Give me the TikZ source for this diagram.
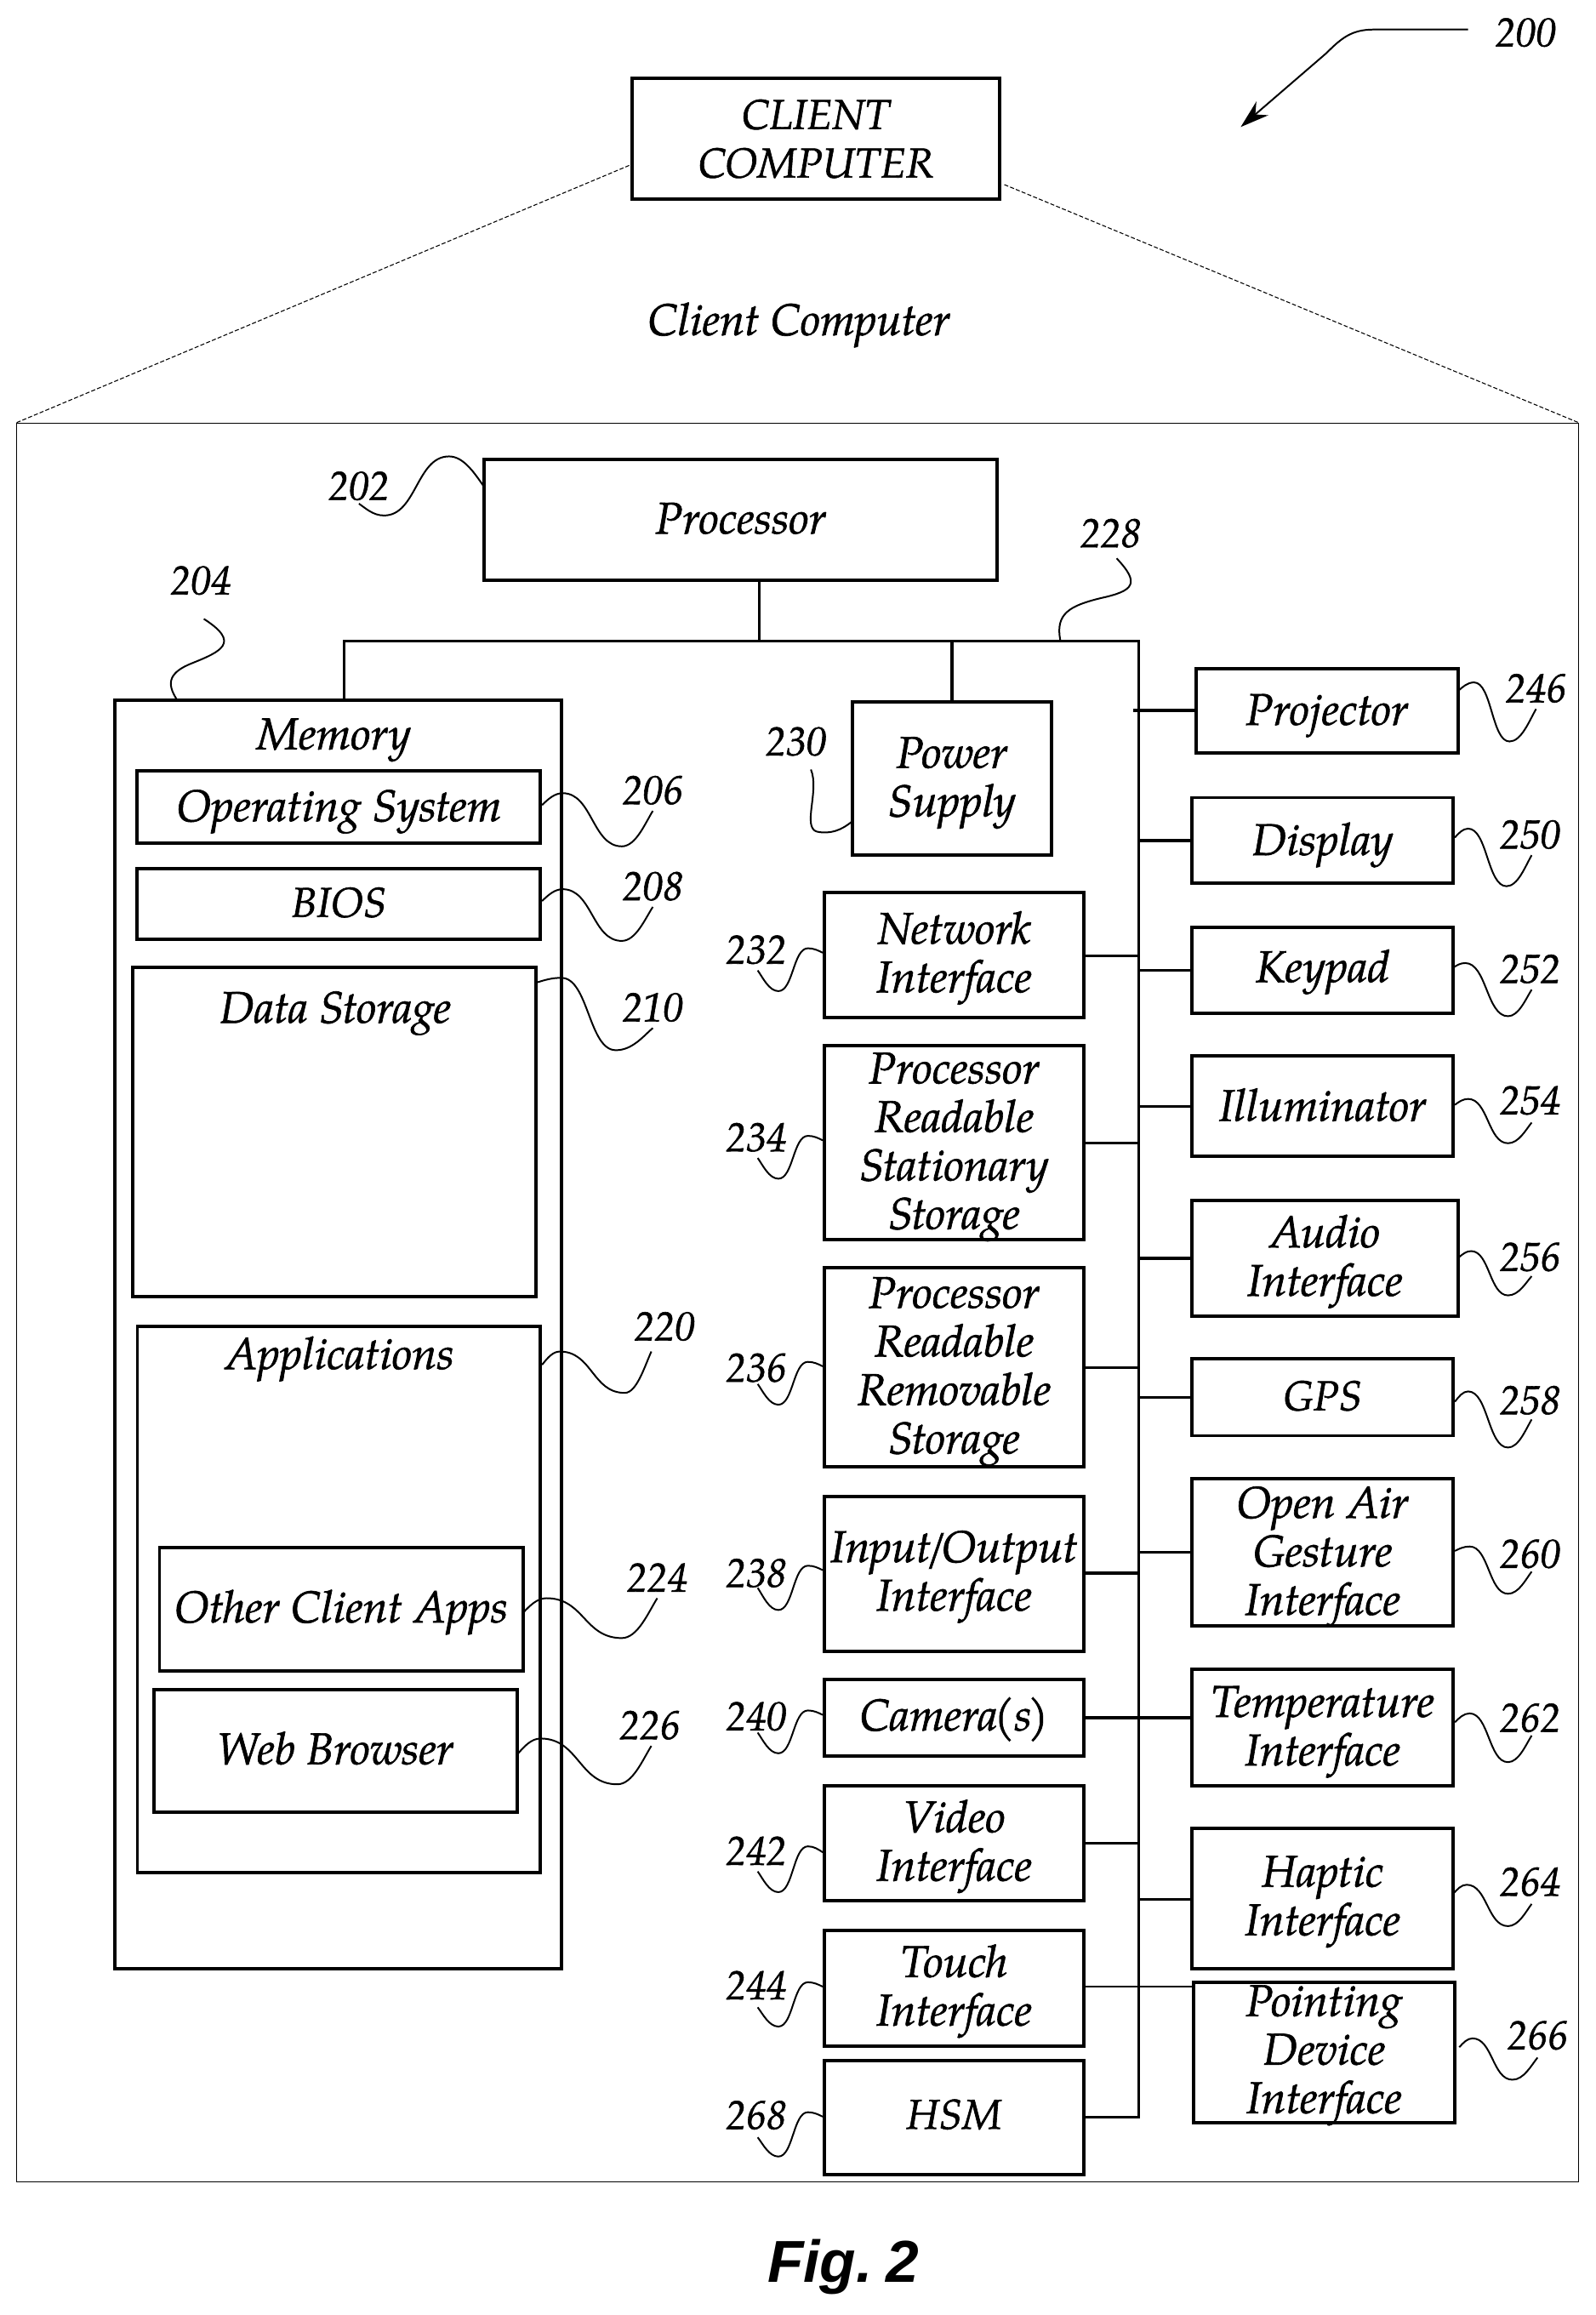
\documentclass[tikz,border=0pt]{standalone}
\usepackage{fontspec}
\setmainfont[ItalicFeatures={FakeBold=1.2}]{TeX Gyre Pagella}
\newfontfamily\figfont{Liberation Sans}
\usetikzlibrary{arrows.meta,calc}
\newcommand\lab{\fontsize{17.2}{18.7}\selectfont\itshape}
\newcommand\capslab{\fontsize{16.1}{18.7}\selectfont\itshape}
\newcommand\numlab{\fontsize{15.6}{18.7}\selectfont\itshape}
\tikzset{
  x=0.02cm,y=-0.02cm,
  bx/.style={draw,line width=1.3pt,inner sep=0pt},
  txt/.style={inner sep=0pt,align=center,font=\lab},
  captxt/.style={inner sep=0pt,align=center,font=\capslab},
  num/.style={inner sep=0pt,font=\numlab},
  wire/.style={line width=1.1pt},
  twire/.style={line width=.8pt},
  sq/.style={line width=.65pt},
  ghost/.style={line width=.35pt,dash pattern=on 1.6pt off .8pt},
}
% box: [text offset] name x1 y1 x2 y2 text
\newcommand\bx[7][2]{\node[bx,minimum width={(#5-#3)*0.02cm},minimum height={(#6-#4)*0.02cm}] (#2) at ({(#3+#5)/2},{(#4+#6)/2}) {};
  \node[txt] (#2t) at ({(#3+#5)/2},{(#4+#6)/2+#1}) {#7};}
\newcommand\capbx[7][0]{\node[bx,minimum width={(#5-#3)*0.02cm},minimum height={(#6-#4)*0.02cm}] (#2) at ({(#3+#5)/2},{(#4+#6)/2}) {};
  \node[captxt] (#2t) at ({(#3+#5)/2},{(#4+#6)/2+#1}) {#7};}
% squiggle through start, crest, trough, end
\newcommand\squig[8]{\draw[sq] (#1,#2) .. controls ({#1+0.3*(#3-#1)},{#4+0.5*(#2-#4)}) and ({#3-0.4*(#3-#1)},#4) .. (#3,#4) .. controls ({#3+0.5*(#5-#3)},#4) and ({#5-0.5*(#5-#3)},#6) .. (#5,#6) .. controls ({#5+0.45*(#7-#5)},#6) and ({#7-0.25*(#7-#5)},{#8+0.35*(#6-#8)}) .. (#7,#8);}
\begin{document}
\begin{tikzpicture}
\useasboundingbox (0,0) rectangle (1080,1567.3);
% frame
\node[draw,line width=.35pt,minimum width=21.16cm,minimum height=23.82cm,inner sep=0pt] (frame) at (540,882) {};
\capbx{client}{428}{53}{677}{135}{CLIENT\\COMPUTER}
\coordinate (cl) at (426,112);
\coordinate (cr) at (680,125);
\draw[ghost] (cl) -- (frame.north west);
\draw[ghost] (cr) -- (frame.north east);
\node[txt] (cctext) at (541,220) {Client Computer};
% processor and memory
\bx[-1]{proc}{328}{311}{675}{393}{Processor}
\node[bx,minimum width=6.04cm,minimum height=17.18cm] (mem) at (229,903.5) {};
\node[txt] (memt) at (226,501) {Memory};
\bx[3]{os}{93}{522}{366}{571}{Operating System}
\capbx[-1]{bios}{93}{588}{366}{636}{BIOS}
\node[bx,minimum width=5.46cm,minimum height=4.46cm] (data) at (226.5,766.5) {};
\node[txt] (datat) at (227,686) {Data Storage};
\node[bx,minimum width=5.46cm,minimum height=7.4cm] (apps) at (229.5,1083) {};
\node[txt] (appst) at (230,920) {Applications};
\bx[2]{other}{108}{1048}{354}{1131}{Other Client Apps}
\bx[-2]{web}{104}{1144}{350}{1227}{Web Browser}
% middle column
\bx[3]{power}{577}{475}{712}{579}{Power\\Supply}
\bx{net}{558}{604}{734}{689}{Network\\Interface}
\bx[3]{prss}{558}{708}{734}{839}{Processor\\Readable\\Stationary\\Storage}
\bx[3]{prrs}{558}{858}{734}{993}{Processor\\Readable\\Removable\\Storage}
\bx{io}{558}{1013}{734}{1118}{Input\kern-2.2pt/\kern-2.2pt Output\\Interface}
\bx[1]{cam}{558}{1137}{734}{1189}{Camera\kern-1.4pt(s\kern-1.4pt)}
\bx[2]{video}{558}{1209}{734}{1287}{Video\\Interface}
\bx{touch}{558}{1307}{734}{1385}{Touch\\Interface}
\capbx[-2]{hsm}{558}{1395}{734}{1472}{HSM}
% right column
\bx[3]{proj}{810}{453}{987}{510}{Projector}
\bx[3]{disp}{807}{540}{984}{598}{Display}
\bx[1]{key}{807}{628}{984}{686}{Keypad}
\bx[-1]{illum}{807}{715}{984}{783}{Illuminator}
\bx{audio}{807}{813}{987}{891}{Audio\\Interface}
\capbx[-1]{gps}{807}{920}{984}{972}{GPS}
\bx[3]{air}{807}{1001}{984}{1101}{Open Air\\Gesture\\Interface}
\bx[3]{temp}{807}{1130}{984}{1209}{Temperature\\Interface}
\bx{hap}{807}{1238}{984}{1333}{Haptic\\Interface}
\bx{point}{808}{1342}{985}{1437}{Pointing\\Device\\Interface}
% bus
\coordinate (bus) at (771,434);
\coordinate (busl) at (233,434);
\coordinate (busc) at (514,434);
\coordinate (projend) at (767,481);
\draw[wire] (proc.south -| busc) -- (busc);
\draw[wire] (mem.north -| busl) -- (busl) -- (bus) -- (hsm.east -| bus) -- (hsm.east);
\draw[wire] (power.north) -- (power.north |- bus);
\draw[wire] (proj.west |- projend) -- (projend);
\foreach \n/\yy in {net/647,prss/774,prrs/926,io/1065,cam/1163,video/1248}{
  \draw[wire] (\n.east |- 0,\yy) -- (bus |- 0,\yy);
}
\foreach \n/\yy in {disp/569,key/657,illum/749,audio/852,gps/946,air/1051,temp/1163,hap/1286}{
  \draw[wire] (\n.west |- 0,\yy) -- (bus |- 0,\yy);
}
\draw[twire] (touch.east |- 0,1345) -- (point.west |- 0,1345);
% arrow 200
\node[num] (n200) at (1033,22) {200};
\coordinate (a200) at (840,86);
\draw[sq,-{Stealth[length=11pt,width=7pt]}] (994,20) -- (930,20) .. controls (915,20) and (908,26) .. (898,36) -- (a200);
% reference numbers
\node[num] (n202) at (243,329) {202};
\node[num] (n204) at (136,393) {204};
\node[num] (n228) at (752,361) {228};
\node[num] (n206) at (442,535) {206};
\node[num] (n208) at (442,600) {208};
\node[num] (n210) at (442,682) {210};
\node[num] (n220) at (450,898) {220};
\node[num] (n224) at (445,1068) {224};
\node[num] (n226) at (440,1168) {226};
\node[num] (n230) at (539,502) {230};
\node[num] (n232) at (512,643) {232};
\node[num] (n234) at (512,770) {234};
\node[num] (n236) at (512,926) {236};
\node[num] (n238) at (512,1065) {238};
\node[num] (n240) at (512,1162) {240};
\node[num] (n242) at (512,1253) {242};
\node[num] (n244) at (512,1344) {244};
\node[num] (n268) at (512,1432) {268};
\node[num] (n246) at (1040,466) {246};
\node[num] (n250) at (1036,565) {250};
\node[num] (n252) at (1036,656) {252};
\node[num] (n254) at (1036,745) {254};
\node[num] (n256) at (1036,851) {256};
\node[num] (n258) at (1036,948) {258};
\node[num] (n260) at (1036,1052) {260};
\node[num] (n262) at (1036,1163) {262};
\node[num] (n264) at (1036,1274) {264};
\node[num] (n266) at (1041,1378) {266};
% squiggles
\squig{328}{330}{304}{309}{260}{349}{243}{341}
\draw[sq] (120,474) .. controls (112,462) and (115,455) .. (130,449) .. controls (150,441) and (163,435) .. (138,419);
\draw[sq] (718,434) .. controls (714,415) and (725,410) .. (745,405) .. controls (768,400) and (772,395) .. (756,378);
\draw[sq] (549,521) .. controls (555,535) and (543,560) .. (553,563) .. controls (562,565) and (570,562) .. (577,556);
\squig{367}{545}{381}{537}{421}{573}{442}{549}
\squig{367}{610}{381}{602}{421}{637}{442}{614}
\squig{364}{665}{380}{662}{417}{711}{442}{696}
\squig{367}{924}{379}{915}{423}{943}{441}{915}
\squig{354}{1092}{370}{1082}{421}{1109}{445}{1082}
\squig{350}{1188}{366}{1177}{418}{1208}{441}{1182}
\squig{557}{645}{547}{642}{527}{671}{513}{657}
\squig{557}{772}{547}{769}{527}{798}{513}{784}
\squig{557}{925}{547}{922}{527}{951}{513}{937}
\squig{557}{1063}{547}{1060}{527}{1090}{513}{1075}
\squig{557}{1161}{547}{1158}{527}{1187}{513}{1173}
\squig{557}{1254}{547}{1250}{527}{1281}{513}{1267}
\squig{557}{1345}{547}{1342}{527}{1372}{513}{1359}
\squig{557}{1433}{547}{1430}{527}{1460}{513}{1447}
\squig{987}{468}{998}{462}{1022}{502}{1040}{480}
\squig{985}{567}{994}{561}{1020}{600}{1037}{579}
\squig{984}{655}{992}{652}{1021}{688}{1037}{670}
\squig{985}{748}{994}{744}{1021}{774}{1037}{760}
\squig{988}{851}{996}{847}{1021}{877}{1037}{864}
\squig{985}{949}{994}{942}{1021}{980}{1037}{961}
\squig{985}{1050}{995}{1047}{1021}{1079}{1037}{1064}
\squig{985}{1166}{995}{1160}{1021}{1193}{1037}{1175}
\squig{984}{1282}{993}{1276}{1021}{1304}{1037}{1289}
\squig{988}{1386}{997}{1380}{1024}{1408}{1041}{1393}
% caption
\node[inner sep=0pt,font={\figfont\fontsize{22.8}{28}\selectfont\bfseries\itshape}] (fig) at (571,1535) {Fig.\kern-1pt\ 2};
\end{tikzpicture}
\end{document}
